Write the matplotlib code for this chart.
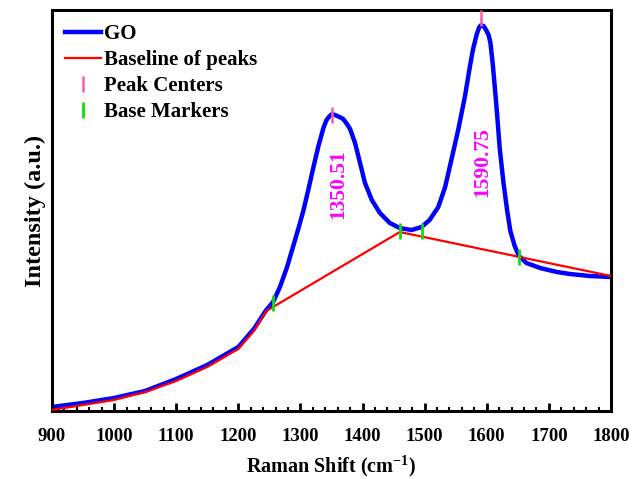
import matplotlib
matplotlib.use("Agg")
import matplotlib.pyplot as plt
from matplotlib.lines import Line2D
from matplotlib.ticker import MultipleLocator, NullLocator

# Raman spectrum of GO (wavenumber in cm-1, intensity in a.u.)
shift = [900, 950, 1000, 1050, 1100, 1150, 1200, 1225, 1245, 1256, 1267,
         1278, 1288, 1297, 1305, 1313, 1321, 1329, 1337, 1342, 1347, 1351,
         1356, 1363, 1369, 1375, 1380, 1388, 1396, 1404, 1415, 1428, 1444,
         1460, 1479, 1495, 1508, 1522, 1533, 1543, 1554, 1565, 1573, 1578,
         1584, 1588, 1591, 1595, 1599, 1603, 1606, 1610, 1616, 1621, 1627,
         1633, 1638, 1645, 1652, 1664, 1686, 1713, 1734, 1766, 1800]
intensity = [4, 8, 13, 20, 32, 46, 64, 82, 101, 109, 124,
             143, 164, 183, 201, 222, 244, 265, 283, 291, 295, 297,
             296, 294, 292, 287, 282, 268, 248, 228, 211, 198, 188,
             183, 181, 184, 191, 204, 224, 251, 281, 315, 345, 362,
             377, 384, 386, 385, 381, 376, 368, 345, 302, 262, 228,
             200, 180, 165, 155, 148, 143, 139, 137, 135, 134]

# baseline under the peaks
base_x = [900, 950, 1000, 1050, 1100, 1150, 1200, 1225, 1245, 1460, 1800]
base_y = [1, 6, 11, 19, 30, 44, 62, 80, 100, 179, 135]

peak_x = [1350.51, 1590.75]
peak_mark_y = [296, 393]
peak_text = ["1350.51", "1590.75"]
peak_text_x = [1361, 1592]
peak_text_y = [227, 249]

marker_x = [1256, 1460, 1496, 1652]
marker_y = [108, 180, 180, 154]

plt.rcParams["font.family"] = "Liberation Serif"
plt.rcParams["font.weight"] = "bold"
plt.rcParams["mathtext.fontset"] = "custom"
plt.rcParams["mathtext.rm"] = "Liberation Serif:bold"
plt.rcParams["mathtext.bf"] = "Liberation Serif:bold"

fig = plt.figure(figsize=(6.44, 4.79), dpi=100)
ax = fig.add_axes([0.0807, 0.142, 0.868, 0.837])

ax.plot(shift, intensity, color="#0000ff", lw=3.2, zorder=2,
        solid_joinstyle="round")
ax.plot(base_x, base_y, color="#ff0000", lw=1.6, zorder=3)
ax.plot(peak_x, peak_mark_y, ls="none", marker="|", ms=12, mew=1.8,
        color="#ff5aa8", zorder=4)
ax.plot(marker_x, marker_y, ls="none", marker="|", ms=12, mew=2,
        color="#11dd11", zorder=4)

for tx, ty, s in zip(peak_text_x, peak_text_y, peak_text):
    ax.text(tx, ty, s, rotation=90, ha="center", va="center",
            color="#ff00ff", fontsize=15.5, fontweight="bold")

ax.set_xlim(900, 1800)
ax.set_ylim(0, 401)
ax.xaxis.set_major_locator(MultipleLocator(100))
ax.xaxis.set_minor_locator(MultipleLocator(20))
ax.yaxis.set_major_locator(NullLocator())
ax.tick_params(axis="x", which="major", direction="in", length=6, width=2,
               labelsize=13.5, pad=12)
ax.tick_params(axis="x", which="minor", direction="in", length=3, width=1.5)
for sp in ax.spines.values():
    sp.set_linewidth(2.2)

ax.set_xlabel("Raman Shift (cm$^{\\mathrm{-1}}$)", fontsize=14.5,
              fontweight="bold", labelpad=6)
ax.set_ylabel("Intensity (a.u.)", fontsize=17.5, fontweight="bold",
              labelpad=4)

handles = [
    Line2D([], [], color="#0000ff", lw=3.2),
    Line2D([], [], color="#ff0000", lw=1.6),
    Line2D([], [], ls="none", marker="|", ms=12, mew=1.8, color="#ff5aa8"),
    Line2D([], [], ls="none", marker="|", ms=12, mew=2, color="#11dd11"),
]
labels = ["GO", "Baseline of peaks", "Peak Centers", "Base Markers"]
ax.legend(handles, labels, loc="upper left", frameon=False,
          prop={"size": 15, "weight": "bold"}, handlelength=1.7,
          handletextpad=0.15, labelspacing=0.28,
          borderaxespad=0.1, bbox_to_anchor=(0.005, 0.99))

fig.savefig("out.png", dpi=100)
